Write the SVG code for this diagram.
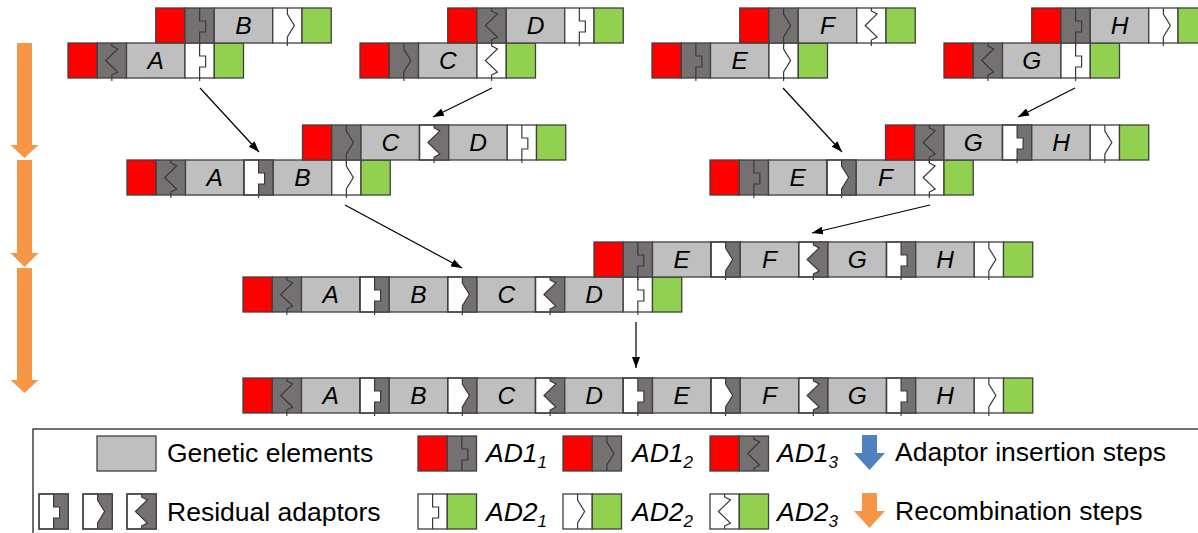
<svg xmlns="http://www.w3.org/2000/svg" width="1198" height="533" viewBox="0 0 1198 533">
<style>
  .rd{fill:#FF0000;stroke:#404040;stroke-width:1.3}
  .gr{fill:#92D050;stroke:#404040;stroke-width:1.3}
  .gn{fill:#BFBFBF;stroke:#404040;stroke-width:1.3}
  .dk{fill:#767171;stroke:#404040;stroke-width:1.3}
  .wh{fill:#FFFFFF;stroke:#404040;stroke-width:1.3}
  .dkf{fill:#767171;stroke:none}
  .ol{fill:none;stroke:#404040;stroke-width:1.3}
  .pf{fill:none;stroke:#383838;stroke-width:1.2}
  .lb{font-family:"Liberation Sans",Arial,sans-serif;font-size:24.5px;font-style:italic;text-anchor:middle;fill:#000}
  .lt{font-family:"Liberation Sans",Arial,sans-serif;font-size:26.5px;fill:#000}
  .it{font-style:italic}
  .cn{stroke:#000;stroke-width:1.2;fill:none;marker-end:url(#ah)}
  .og{fill:#F79646}
  .bl{fill:#4F81BD}
</style>
<defs>
  <marker id="ah" viewBox="0 0 10 10" refX="10" refY="5" markerWidth="11" markerHeight="8" markerUnits="userSpaceOnUse" orient="auto" preserveAspectRatio="none">
    <path d="M0,0L10,5L0,10Z" fill="#000"/>
  </marker>
  <!-- joint profiles: a = square notch, b = chevron, c = zigzag -->
  <path id="pa" d="M14.6,0V13H20.6V24H14.6V35"/>
  <path id="pb" d="M14.6,0V6L21.6,17.5L14.6,29V35"/>
  <path id="pc" d="M14.6,0V3L20.4,6L8.4,17.5L20.4,29L14.6,32V35"/>
  <!-- AD1 adaptors (dark) -->
  <g id="a1a"><rect class="dk" width="29.25" height="35"/><use href="#pa" class="pf"/><path d="M14.6,35V38" style="stroke:var(--tail,#404040);stroke-width:1.2"/></g>
  <g id="a1b"><rect class="dk" width="29.25" height="35"/><use href="#pb" class="pf"/><path d="M14.6,35V38" style="stroke:var(--tail,#404040);stroke-width:1.2"/></g>
  <g id="a1c"><rect class="dk" width="29.25" height="35"/><use href="#pc" class="pf"/><path d="M14.6,35V38" style="stroke:var(--tail,#404040);stroke-width:1.2"/></g>
  <!-- AD2 adaptors (white) -->
  <g id="a2a"><rect class="wh" width="29.25" height="35"/><use href="#pa" class="pf"/><path d="M14.6,35V38" style="stroke:var(--tail,#404040);stroke-width:1.2"/></g>
  <g id="a2b"><rect class="wh" width="29.25" height="35"/><use href="#pb" class="pf"/><path d="M14.6,35V38" style="stroke:var(--tail,#404040);stroke-width:1.2"/></g>
  <g id="a2c"><rect class="wh" width="29.25" height="35"/><use href="#pc" class="pf"/><path d="M14.6,35V38" style="stroke:var(--tail,#404040);stroke-width:1.2"/></g>
  <!-- residual adaptors left after recombination -->
  <g id="ja"><rect class="wh" width="29.25" height="35"/><path class="dkf" d="M14.6,0V13H20.6V24H14.6V35H29.25V0Z"/><use href="#pa" class="pf"/><rect class="ol" width="29.25" height="35"/><path d="M14.6,35V38" style="stroke:var(--tail,#404040);stroke-width:1.2"/></g>
  <g id="jb"><rect class="wh" width="29.25" height="35"/><path class="dkf" d="M14.6,0V6L21.6,17.5L14.6,29V35H29.25V0Z"/><use href="#pb" class="pf"/><rect class="ol" width="29.25" height="35"/><path d="M14.6,35V38" style="stroke:var(--tail,#404040);stroke-width:1.2"/></g>
  <g id="jc"><rect class="wh" width="29.25" height="35"/><path class="dkf" d="M14.6,0V3L20.4,6L8.4,17.5L20.4,29L14.6,32V35H29.25V0Z"/><use href="#pc" class="pf"/><rect class="ol" width="29.25" height="35"/><path d="M14.6,35V38" style="stroke:var(--tail,#404040);stroke-width:1.2"/></g>
</defs>

<!-- recombination step arrows -->
<g id="steps">
  <path class="og" d="M17,43H32V145H38.5L24.5,158L10.5,145H17Z"/>
  <path class="og" d="M17,160H32V253H38.5L24.5,267L10.5,253H17Z"/>
  <path class="og" d="M17,268H32V380H38.5L24.5,393L10.5,380H17Z"/>
</g>

<!-- level 1: single elements -->
<g id="n-A" transform="translate(68,43)">
  <rect class="rd" width="29.25" height="35"/><use href="#a1c" x="29.25"/><rect class="gn" x="58.5" width="58.5" height="35"/><use href="#a2a" x="117"/><rect class="gr" x="146.25" width="29.25" height="35"/>
  <text class="lb" x="87.75" y="26">A</text>
</g>
<g id="n-B" transform="translate(155.75,8)">
  <rect class="rd" width="29.25" height="35"/><use href="#a1a" x="29.25"/><rect class="gn" x="58.5" width="58.5" height="35"/><use href="#a2b" x="117"/><rect class="gr" x="146.25" width="29.25" height="35"/>
  <text class="lb" x="87.75" y="26">B</text>
</g>
<g id="n-C" transform="translate(360,43)">
  <rect class="rd" width="29.25" height="35"/><use href="#a1b" x="29.25"/><rect class="gn" x="58.5" width="58.5" height="35"/><use href="#a2c" x="117"/><rect class="gr" x="146.25" width="29.25" height="35"/>
  <text class="lb" x="87.75" y="26">C</text>
</g>
<g id="n-D" transform="translate(447.75,8)">
  <rect class="rd" width="29.25" height="35"/><use href="#a1c" x="29.25"/><rect class="gn" x="58.5" width="58.5" height="35"/><use href="#a2a" x="117"/><rect class="gr" x="146.25" width="29.25" height="35"/>
  <text class="lb" x="87.75" y="26">D</text>
</g>
<g id="n-E" transform="translate(652,43)">
  <rect class="rd" width="29.25" height="35"/><use href="#a1a" x="29.25"/><rect class="gn" x="58.5" width="58.5" height="35"/><use href="#a2b" x="117"/><rect class="gr" x="146.25" width="29.25" height="35"/>
  <text class="lb" x="87.75" y="26">E</text>
</g>
<g id="n-F" transform="translate(739.75,8)">
  <rect class="rd" width="29.25" height="35"/><use href="#a1b" x="29.25"/><rect class="gn" x="58.5" width="58.5" height="35"/><use href="#a2c" x="117"/><rect class="gr" x="146.25" width="29.25" height="35"/>
  <text class="lb" x="87.75" y="26">F</text>
</g>
<g id="n-G" transform="translate(944,43)">
  <rect class="rd" width="29.25" height="35"/><use href="#a1c" x="29.25"/><rect class="gn" x="58.5" width="58.5" height="35"/><use href="#a2a" x="117"/><rect class="gr" x="146.25" width="29.25" height="35"/>
  <text class="lb" x="87.75" y="26">G</text>
</g>
<g id="n-H" transform="translate(1031.75,8)">
  <rect class="rd" width="29.25" height="35"/><use href="#a1a" x="29.25"/><rect class="gn" x="58.5" width="58.5" height="35"/><use href="#a2b" x="117"/><rect class="gr" x="146.25" width="29.25" height="35"/>
  <text class="lb" x="87.75" y="26">H</text>
</g>

<!-- level 2: pairs -->
<g id="n-AB" transform="translate(127,160)">
  <rect class="rd" width="29.25" height="35"/><use href="#a1c" x="29.25"/><rect class="gn" x="58.5" width="58.5" height="35"/><use href="#ja" x="117"/><rect class="gn" x="146.25" width="58.5" height="35"/><use href="#a2b" x="204.75"/><rect class="gr" x="234" width="29.25" height="35"/>
  <text class="lb" x="87.75" y="26">A</text><text class="lb" x="175.5" y="26">B</text>
</g>
<g id="n-CD" transform="translate(302.5,125)">
  <rect class="rd" width="29.25" height="35"/><use href="#a1b" x="29.25"/><rect class="gn" x="58.5" width="58.5" height="35"/><use href="#jc" x="117"/><rect class="gn" x="146.25" width="58.5" height="35"/><use href="#a2a" x="204.75"/><rect class="gr" x="234" width="29.25" height="35"/>
  <text class="lb" x="87.75" y="26">C</text><text class="lb" x="175.5" y="26">D</text>
</g>
<g id="n-EF" transform="translate(710,160)">
  <rect class="rd" width="29.25" height="35"/><use href="#a1a" x="29.25"/><rect class="gn" x="58.5" width="58.5" height="35"/><use href="#jb" x="117"/><rect class="gn" x="146.25" width="58.5" height="35"/><use href="#a2c" x="204.75"/><rect class="gr" x="234" width="29.25" height="35"/>
  <text class="lb" x="87.75" y="26">E</text><text class="lb" x="175.5" y="26">F</text>
</g>
<g id="n-GH" transform="translate(885.5,125)">
  <rect class="rd" width="29.25" height="35"/><use href="#a1c" x="29.25"/><rect class="gn" x="58.5" width="58.5" height="35"/><use href="#ja" x="117"/><rect class="gn" x="146.25" width="58.5" height="35"/><use href="#a2b" x="204.75"/><rect class="gr" x="234" width="29.25" height="35"/>
  <text class="lb" x="87.75" y="26">G</text><text class="lb" x="175.5" y="26">H</text>
</g>

<!-- level 3: quadruples -->
<g id="n-ABCD" transform="translate(243,277)">
  <rect class="rd" width="29.25" height="35"/><use href="#a1c" x="29.25"/>
  <rect class="gn" x="58.5" width="58.5" height="35"/><use href="#ja" x="117"/>
  <rect class="gn" x="146.25" width="58.5" height="35"/><use href="#jb" x="204.75"/>
  <rect class="gn" x="234" width="58.5" height="35"/><use href="#jc" x="292.5"/>
  <rect class="gn" x="321.75" width="58.5" height="35"/><use href="#a2a" x="380.25"/>
  <rect class="gr" x="409.5" width="29.25" height="35"/>
  <text class="lb" x="87.75" y="26">A</text><text class="lb" x="175.5" y="26">B</text><text class="lb" x="263.25" y="26">C</text><text class="lb" x="351" y="26">D</text>
</g>
<g id="n-EFGH" transform="translate(594,242)">
  <rect class="rd" width="29.25" height="35"/><use href="#a1a" x="29.25"/>
  <rect class="gn" x="58.5" width="58.5" height="35"/><use href="#jb" x="117"/>
  <rect class="gn" x="146.25" width="58.5" height="35"/><use href="#jc" x="204.75"/>
  <rect class="gn" x="234" width="58.5" height="35"/><use href="#ja" x="292.5"/>
  <rect class="gn" x="321.75" width="58.5" height="35"/><use href="#a2b" x="380.25"/>
  <rect class="gr" x="409.5" width="29.25" height="35"/>
  <text class="lb" x="87.75" y="26">E</text><text class="lb" x="175.5" y="26">F</text><text class="lb" x="263.25" y="26">G</text><text class="lb" x="351" y="26">H</text>
</g>

<!-- level 4: full assembly -->
<g id="n-ABCDEFGH" transform="translate(243,378)">
  <rect class="rd" width="29.25" height="35"/><use href="#a1c" x="29.25"/>
  <rect class="gn" x="58.5" width="58.5" height="35"/><use href="#ja" x="117"/>
  <rect class="gn" x="146.25" width="58.5" height="35"/><use href="#jb" x="204.75"/>
  <rect class="gn" x="234" width="58.5" height="35"/><use href="#jc" x="292.5"/>
  <rect class="gn" x="321.75" width="58.5" height="35"/><use href="#ja" x="380.25"/>
  <rect class="gn" x="409.5" width="58.5" height="35"/><use href="#jb" x="468"/>
  <rect class="gn" x="497.25" width="58.5" height="35"/><use href="#jc" x="555.75"/>
  <rect class="gn" x="585" width="58.5" height="35"/><use href="#ja" x="643.5"/>
  <rect class="gn" x="672.75" width="58.5" height="35"/><use href="#a2b" x="731.25"/>
  <rect class="gr" x="760.5" width="29.25" height="35"/>
  <text class="lb" x="87.75" y="26">A</text><text class="lb" x="175.5" y="26">B</text><text class="lb" x="263.25" y="26">C</text><text class="lb" x="351" y="26">D</text>
  <text class="lb" x="438.75" y="26">E</text><text class="lb" x="526.5" y="26">F</text><text class="lb" x="614.25" y="26">G</text><text class="lb" x="702" y="26">H</text>
</g>

<!-- connectors -->
<g id="connectors">
  <line class="cn" x1="200" y1="88" x2="259" y2="152"/>
  <line class="cn" x1="492" y1="88" x2="433" y2="117"/>
  <line class="cn" x1="783" y1="88" x2="842" y2="152"/>
  <line class="cn" x1="1075" y1="88" x2="1018" y2="117"/>
  <line class="cn" x1="345" y1="205" x2="462" y2="268"/>
  <line class="cn" x1="930" y1="205" x2="812" y2="233"/>
  <line class="cn" x1="636" y1="322" x2="636" y2="368"/>
</g>

<!-- key -->
<g id="legend" style="--tail:none">
  <rect x="33" y="429" width="1200" height="130" fill="#fff" stroke="#404040" stroke-width="1.5"/>
  <rect class="gn" x="97" y="436" width="59" height="35"/>
  <text class="lt" x="167" y="462">Genetic elements</text>
  <use href="#ja" x="39" y="494"/><use href="#jb" x="83" y="494"/><use href="#jc" x="127" y="494"/>
  <text class="lt" x="167" y="521">Residual adaptors</text>

  <rect class="rd" x="418" y="436" width="29.25" height="35"/><use href="#a1a" x="447.25" y="436"/>
  <text class="lt it" x="486" y="462">AD1<tspan font-size="17" dy="6">1</tspan></text>
  <rect class="rd" x="563" y="436" width="29.25" height="35"/><use href="#a1b" x="592.25" y="436"/>
  <text class="lt it" x="632" y="462">AD1<tspan font-size="17" dy="6">2</tspan></text>
  <rect class="rd" x="710" y="436" width="29.25" height="35"/><use href="#a1c" x="739.25" y="436"/>
  <text class="lt it" x="777" y="462">AD1<tspan font-size="17" dy="6">3</tspan></text>

  <use href="#a2a" x="418" y="494"/><rect class="gr" x="447.25" y="494" width="29.25" height="35"/>
  <text class="lt it" x="486" y="521">AD2<tspan font-size="17" dy="6">1</tspan></text>
  <use href="#a2b" x="563" y="494"/><rect class="gr" x="592.25" y="494" width="29.25" height="35"/>
  <text class="lt it" x="632" y="521">AD2<tspan font-size="17" dy="6">2</tspan></text>
  <use href="#a2c" x="710" y="494"/><rect class="gr" x="739.25" y="494" width="29.25" height="35"/>
  <text class="lt it" x="777" y="521">AD2<tspan font-size="17" dy="6">3</tspan></text>

  <path class="bl" d="M862,435H877V453H885L869.5,470L854,453H862Z"/>
  <text class="lt" x="895" y="461">Adaptor insertion steps</text>
  <path class="og" d="M862,493H877V511H885L869.5,528L854,511H862Z"/>
  <text class="lt" x="895" y="520">Recombination steps</text>
</g>
</svg>
